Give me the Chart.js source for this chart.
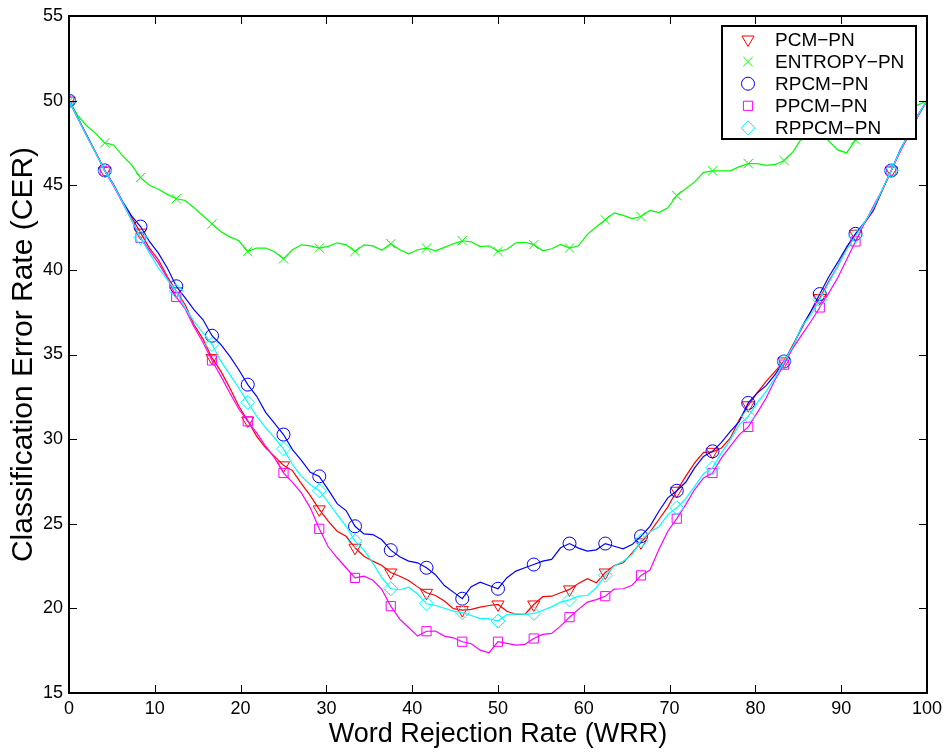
<!DOCTYPE html>
<html>
<head>
<meta charset="utf-8">
<script src="https://cdn.jsdelivr.net/npm/chart.js@4.4.1/dist/chart.umd.min.js"></script>
<style>
  html, body { margin: 0; padding: 0; background: #fff; }
  #wrap { width: 944px; height: 752px; }
</style>
</head>
<body>
<div id="wrap"><canvas id="myChart"></canvas></div>
<script>
// x grid: 97 samples of the word rejection rate, 0..100
const wrr = Array.from({length: 97}, (_, i) => i * 100 / 96)
const xTicks = [0, 10, 20, 30, 40, 50, 60, 70, 80, 90, 100]
const yTicks = [15, 20, 25, 30, 35, 40, 45, 50, 55]

const labels = ['PCM\u2212PN', 'ENTROPY\u2212PN', 'RPCM\u2212PN', 'PPCM\u2212PN', 'RPPCM\u2212PN']

// classification error rate, one value per wrr sample (marker every 4th)
const pcm = [
  50, 48.95, 47.9, 46.9,  45.85, 45.0, 44.0, 43.1,  42.2, 41.29, 40.6, 39.61,
  38.73, 37.94, 36.76, 35.91,  34.8, 34.0, 33.02, 31.94,  31.1, 30.16, 29.48, 28.98,
  28.45, 28.14, 27.37, 26.66,  25.85, 25.15, 24.56, 24.26,  23.58, 23.08, 22.79, 22.53,
  22.12, 21.9, 21.65, 21.27,  20.92, 20.76, 20.43, 19.98,  19.9, 19.94, 20.07, 20.17,
  20.23, 19.83, 19.64, 19.64,  20.23, 20.69, 20.72, 20.92,  21.12, 21.47, 21.75, 21.51,
  22.12, 22.53, 22.69, 23.28,  23.9, 24.5, 25.25, 26.0,  26.95, 27.8, 28.6, 29.22,
  29.25, 29.48, 30.07, 31.15,  32.0, 32.73, 33.41, 34.0,  34.59, 35.58, 36.56, 37.54,
  38.34, 39.31, 40.2, 41.29,  42.13, 42.75, 43.5, 44.7,  45.87, 47.0, 48.0, 49.1,
  50
]
const entropy = [
  50, 49.1, 48.5, 48.05,  47.5, 47.38, 46.74, 46.2,  45.45, 45.0, 44.76, 44.46,
  44.2, 44.1, 43.66, 43.2,  42.72, 42.25, 41.95, 41.72,  41.09, 41.29, 41.29, 41.07,
  40.65, 41.19, 41.48, 41.42,  41.29, 41.39, 41.6, 41.48,  41.09, 41.48, 41.42, 41.16,
  41.54, 41.19, 40.95, 41.19,  41.29, 41.13, 41.33, 41.54,  41.72, 41.66, 41.38, 41.42,
  41.09, 41.22, 41.6, 41.63,  41.49, 41.13, 41.25, 41.5,  41.29, 41.42, 42.1, 42.55,
  42.96, 43.37, 43.22, 43.03,  43.15, 43.52, 43.39, 43.67,  44.39, 44.79, 45.2, 45.76,
  45.85, 45.85, 45.85, 46.1,  46.28, 46.28, 46.17, 46.23,  46.46, 46.97, 47.8, 48.3,
  48.4, 47.62, 47.09, 46.91,  47.68, 48.0, 48.4, 48.7,  49.0, 49.2, 49.5, 49.75,
  50
]
const rpcm = [
  50, 48.97, 47.95, 46.92,  45.88, 45.02, 44.04, 43.19,  42.56, 41.68, 40.99, 40.11,
  39.03, 38.34, 37.64, 37.05,  36.11, 35.58, 34.89, 34.1,  33.22, 32.53, 31.58, 30.93,
  30.27, 29.38, 28.75, 28.04,  27.8, 27.02, 26.19, 25.78,  24.85, 24.4, 24.36, 24.05,
  23.44, 23.05, 22.79, 22.69,  22.4, 21.99, 21.35, 20.96,  20.57, 21.28, 21.55, 21.35,
  21.16, 21.81, 22.2, 22.4,  22.59, 22.79, 22.89, 23.58,  23.83, 23.56, 23.38, 23.46,
  23.83, 23.67, 23.52, 23.77,  24.26, 24.85, 25.74, 26.53,  26.95, 27.45, 28.3, 28.98,
  29.28, 29.81, 30.46, 31.05,  32.14, 32.73, 33.16, 33.81,  34.59, 35.48, 36.66, 37.54,
  38.57, 39.58, 40.44, 41.35,  42.13, 42.8, 43.55, 44.73,  45.87, 47.09, 48.07, 49.16,
  50
]
const ppcm = [
  50, 48.95, 47.9, 46.9,  45.85, 44.95, 43.95, 42.95,  41.9, 41.15, 40.4, 39.52,
  38.4, 37.69, 36.62, 35.71,  34.65, 33.71, 32.73, 31.78,  31.05, 30.37, 29.58, 28.89,
  28.0, 27.45, 26.82, 25.94,  24.7, 23.64, 22.99, 22.4,  21.8, 21.9, 21.66, 21.12,
  20.13, 19.36, 18.87, 18.36,  18.65, 18.66, 18.36, 18.26,  18.03, 17.91, 17.53, 17.38,
  18.03, 17.93, 17.83, 17.87,  18.22, 18.46, 18.52, 18.95,  19.48, 19.94, 20.37, 20.52,
  20.72, 21.14, 21.16, 21.37,  21.95, 22.26, 23.48, 24.56,  25.3, 26.13, 27.02, 27.71,
  28.0, 28.89, 29.58, 30.27,  30.72, 31.55, 32.43, 33.51,  34.4, 35.38, 36.17, 36.95,
  37.78, 38.63, 39.52, 40.6,  41.68, 42.76, 43.75, 44.73,  45.87, 47.0, 48.1, 49.1,
  50
]
const rppcm = [
  50, 48.95, 47.9, 46.9,  45.85, 45.0, 44.0, 42.95,  41.9, 40.99, 40.11, 39.42,
  38.75, 37.75, 36.95, 36.27,  35.6, 34.59, 33.81, 33.02,  32.17, 31.35, 30.66, 30.07,
  29.42, 28.5, 27.8, 27.31,  26.95, 26.27, 25.54, 24.85,  23.97, 23.44, 22.69, 21.81,
  21.16, 21.1, 21.25, 20.85,  20.27, 20.17, 20.01, 19.84,  19.75, 19.58, 19.4, 19.39,
  19.25, 19.64, 19.68, 19.64,  19.7, 19.89, 20.09, 20.37,  20.5, 20.72, 20.76, 21.22,
  21.95, 22.5, 22.79, 23.18,  24.0, 24.52, 24.82, 25.54,  25.94, 26.47, 27.21, 27.96,
  28.3, 29.19, 29.97, 30.86,  31.35, 32.14, 32.82, 33.61,  34.59, 35.48, 36.66, 37.35,
  38.23, 39.22, 40.2, 41.19,  42.0, 42.8, 43.65, 44.75,  45.87, 47.05, 48.1, 49.15,
  50
]

const FONT = "'Liberation Sans', Arial, Helvetica, sans-serif"

function makeSet(label, values, color, style, rot, radius, order) {
  return {
    label: label,
    data: values.map((v, i) => ({x: wrr[i], y: v})),
    borderColor: color,
    borderWidth: 1.2,
    pointStyle: style,
    rotation: rot,
    pointRadius: c => (c.dataIndex % 4 === 0 && c.dataIndex < 96) ? radius : 0,
    pointHoverRadius: 0,
    pointBorderColor: color,
    pointBackgroundColor: 'rgba(0,0,0,0)',
    pointBorderWidth: 1,
    tension: 0,
    order: order,
    mRadius: radius
  }
}

const datasets = [
  makeSet(labels[0], pcm, '#ff0000', 'triangle', 180, 7, 5),
  makeSet(labels[1], entropy, '#00ff00', 'crossRot', 0, 6.5, 4),
  makeSet(labels[2], rpcm, '#0000ff', 'circle', 0, 6.5, 3),
  makeSet(labels[3], ppcm, '#ff00ff', 'rect', 0, 6.5, 2),
  makeSet(labels[4], rppcm, '#00ffff', 'rectRot', 0, 7, 1)
]

// box with inward ticks on all four sides + boxed legend (matlab look)
const framePlugin = {
  id: 'frame',
  afterDatasetsDraw(chart) {
    const ctx = chart.ctx
    const a = chart.chartArea
    const xs = chart.scales.x, ys = chart.scales.y
    const tl = 8
    ctx.save()
    ctx.strokeStyle = '#000'
    ctx.lineWidth = 1
    ctx.beginPath()
    xTicks.forEach(t => {
      const px = Math.round(xs.getPixelForValue(t)) + 0.5
      ctx.moveTo(px, a.bottom); ctx.lineTo(px, a.bottom - tl)
      ctx.moveTo(px, a.top); ctx.lineTo(px, a.top + tl)
    })
    yTicks.forEach(t => {
      const py = Math.round(ys.getPixelForValue(t)) + 0.5
      ctx.moveTo(a.left, py); ctx.lineTo(a.left + tl, py)
      ctx.moveTo(a.right, py); ctx.lineTo(a.right - tl, py)
    })
    ctx.stroke()
    ctx.lineWidth = 2
    ctx.strokeRect(a.left, a.top, a.right - a.left, a.bottom - a.top)

    // legend
    const lx = a.right - 205, ly = a.top + 10, lw = 194, lh = 113
    ctx.fillStyle = '#fff'
    ctx.fillRect(lx, ly, lw, lh)
    ctx.lineWidth = 2
    ctx.strokeRect(lx, ly, lw, lh)
    ctx.font = '19px ' + FONT
    ctx.textBaseline = 'middle'
    ctx.textAlign = 'left'
    chart.data.datasets.forEach((ds, i) => {
      const cy = ly + 13.5 + i * 22.1
      ctx.strokeStyle = ds.borderColor
      ctx.fillStyle = 'rgba(0,0,0,0)'
      ctx.lineWidth = 1
      Chart.helpers.drawPoint(ctx, {pointStyle: ds.pointStyle, rotation: ds.rotation, radius: ds.mRadius, borderWidth: 1}, lx + 26, cy)
      ctx.fillStyle = '#000'
      ctx.fillText(ds.label, lx + 53, cy + 1)
    })
    ctx.restore()
  }
}

const config = {
  type: 'line',
  data: { datasets: datasets },
  options: {
    responsive: true,
    maintainAspectRatio: false,
    animation: false,
    events: [],
    layout: { padding: { left: 0, top: 16, right: 17, bottom: 0 } },
    plugins: { legend: { display: false }, tooltip: { enabled: false } },
    scales: {
      x: {
        type: 'linear', min: 0, max: 100,
        afterBuildTicks: s => { s.ticks = xTicks.map(v => ({value: v})) },
        afterFit: s => { s.height = 59; s.paddingLeft = 0; s.paddingRight = 0 },
        ticks: { color: '#000', font: { family: FONT, size: 18 }, padding: 5, maxRotation: 0, autoSkip: false },
        grid: { display: false, drawTicks: false },
        border: { display: false },
        title: { display: true, text: 'Word Rejection Rate (WRR)', color: '#000',
                 font: { family: FONT, size: 27 }, padding: { top: 0, bottom: 1 } }
      },
      y: {
        type: 'linear', min: 15, max: 55,
        afterBuildTicks: s => { s.ticks = yTicks.map(v => ({value: v})) },
        afterFit: s => { s.width = 69; s.paddingTop = 0; s.paddingBottom = 0 },
        ticks: { color: '#000', font: { family: FONT, size: 18 }, padding: 6 },
        grid: { display: false, drawTicks: false },
        border: { display: false },
        title: { display: true, text: 'Classification Error Rate (CER)', color: '#000',
                 font: { family: FONT, size: 30 }, padding: { top: 6, bottom: 0 } }
      }
    }
  },
  plugins: [framePlugin]
}

const myChart = document.getElementById('myChart')
new Chart(myChart, config)
</script>
</body>
</html>
